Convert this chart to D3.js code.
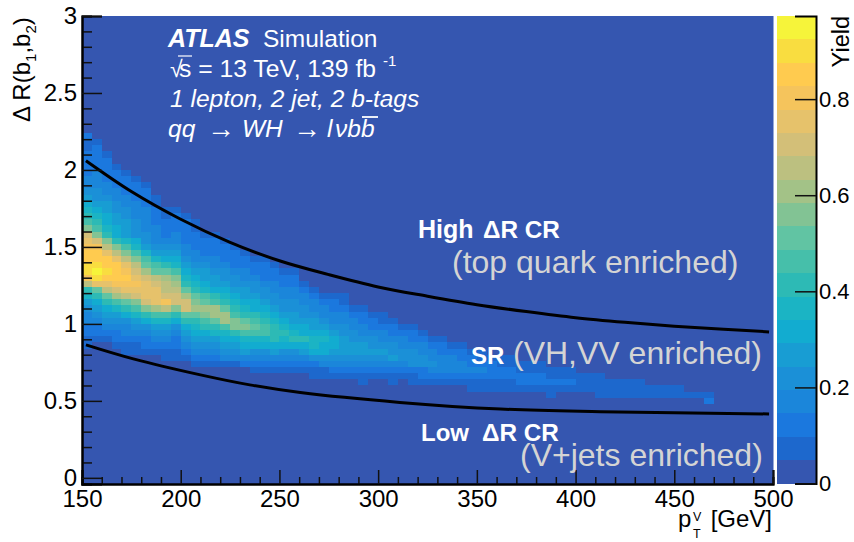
<!DOCTYPE html>
<html>
<head>
<meta charset="utf-8">
<script src="https://d3js.org/d3.v7.min.js"></script>
<style>
  html, body { margin: 0; padding: 0; background: #fff; }
  svg { display: block; }
  text { font-family: "Liberation Sans", Arial, sans-serif; }
  .tick text { font-family: "Liberation Sans", Arial, sans-serif; }
</style>
</head>
<body>
<div id="chart"></div>
<script>
// palette of the z axis, one colour per band, lowest yield first
var bandColors = ["#3556b0", "#1d68cd", "#1b78de", "#1b86da", "#1b90d7", "#189dd3", "#12acd0",
  "#1bb4c4", "#2dbab5", "#46bfaa", "#61c4a3", "#82c394", "#a3c287", "#bcc080", "#d3bf78",
  "#e6c26b", "#f5c45c", "#ffcb4f", "#f9dd40", "#f6f43a"];
var zMax = 0.973;

// heat map: x bins are 5 GeV wide, y bins 0.04 wide
var binWidthX = 5;
var binWidthY = 0.04;

// lowest filled y bin of each pT column
var firstRow = [21, 22, 22, 21, 20, 20, 20, 20, 19, 19, 19, 18, 18, 18, 18, 18, 18,
  17, 17, 17, 17, 17, 17, 16, 16, 16, 16, 16, 15, 16, 16, 15, 16, 15, 15, 15, 15, 15, 15,
  14, 14, 14, 14, 14, 14, 14, 14, 13, 14, 14, 14, 14, 13, 13, 13, 13, 13, 13, 13, 13, 13, 13, 13, 12];

// colour band, going upwards from firstRow
var columnBands = [
  [1,1,2,2,3,3,4,5,7,8,13,16,18,18,17,17,16,15,14,11,9,8,7,6,5,4,3,3,2,2,2,2,1,1,2],
  [1,2,2,3,4,5,6,8,10,15,18,19,18,17,17,16,14,11,9,8,7,6,5,4,4,3,3,3,2,2,2,2,1],
  [1,2,3,4,5,6,8,10,13,15,17,18,17,17,15,13,11,8,7,6,6,5,5,4,3,3,2,2,2,2,1],
  [1,2,2,3,4,5,7,9,12,14,16,17,17,17,15,13,11,8,6,6,5,5,4,4,3,3,2,2,2,1],
  [1,1,2,3,3,4,6,8,10,13,15,16,17,16,15,13,11,9,7,5,5,5,4,4,3,3,2,2,2,1],
  [1,1,2,3,4,5,7,9,11,14,15,16,15,14,13,11,9,7,6,4,4,4,3,3,3,2,2,2,1],
  [1,2,2,3,4,6,8,11,14,15,15,15,14,12,10,9,7,5,4,4,3,3,3,3,2,2,2,1],
  [1,2,3,4,5,7,9,12,15,15,15,14,13,10,9,7,5,4,3,3,3,2,2,2,1,1],
  [1,1,2,3,4,5,7,9,13,16,14,13,13,12,10,8,6,5,4,3,2,2,2,1,1],
  [1,1,2,2,3,4,6,8,11,14,14,13,12,11,9,7,6,5,4,3,3,2,2,2,1],
  [1,2,3,4,5,6,8,10,14,14,12,10,8,7,6,5,4,3,3,2,2,2,2,1],
  [1,2,3,4,5,6,7,8,10,12,11,10,8,7,6,5,4,3,3,2,2,2,1,1],
  [1,2,3,4,5,6,8,9,11,12,10,9,7,6,5,5,4,3,2,2,2,1],
  [1,2,3,4,5,7,8,10,12,12,9,8,6,5,5,4,3,3,2,2,2,1],
  [1,3,4,5,6,7,9,12,12,10,8,7,6,5,4,4,3,2,2,2,1],
  [1,3,4,5,6,8,11,11,9,8,7,6,5,4,4,3,2,2,2,1],
  [2,3,5,6,7,9,11,10,8,7,6,5,5,4,3,3,2,2,1],
  [1,2,3,4,6,7,9,10,9,8,6,6,5,4,4,3,2,2,1],
  [1,2,3,4,6,7,9,9,8,7,6,5,4,4,3,2,2,2,1],
  [1,2,3,5,6,8,8,8,7,6,5,4,4,3,3,2,2,1],
  [1,2,3,4,6,7,8,7,6,5,4,4,3,3,2,2,1],
  [1,2,3,4,6,8,7,6,5,5,4,4,3,3,2,2,1],
  [1,2,3,5,6,8,6,6,5,4,4,3,3,2,1],
  [1,1,2,4,6,7,7,6,5,5,4,3,3,2,1],
  [1,1,3,4,6,6,7,6,5,4,3,3,2,1],
  [1,2,3,4,5,6,6,5,4,3,3,2,2,1],
  [1,2,3,4,5,5,5,4,4,3,3,2,1,1],
  [1,2,3,4,5,5,4,4,3,3,2,1],
  [1,1,2,3,4,5,5,4,3,3,2,2,1],
  [1,2,3,4,5,4,4,3,2,2,1],
  [1,2,3,4,5,4,3,3,2,1,1],
  [1,1,2,3,5,4,4,3,2,2,1],
  [1,2,3,4,4,3,3,2,1],
  [1,1,2,4,4,4,3,2,2,1],
  [1,2,2,4,4,3,3,2,1],
  [1,2,3,4,3,3,2,1],
  [1,2,3,3,3,2,2,1],
  [1,2,3,3,3,2,1],
  [1,2,3,3,2,2,1],
  [1,1,2,3,2,2,1],
  [1,1,2,3,2,1,1],
  [1,1,2,2,2,1],
  [1,1,2,2,1,1],
  [1,1,2,2,1,1],
  [1,2,2,1,1],
  [1,2,2,1,1],
  [1,2,2,1,1],
  [1,1,2,1,1],
  [1,2,1,1],
  [1,2,1,1],
  [1,1,1],
  [1,1,1],
  [1,1,1,1],
  [1,1,1],
  [1,1,1],
  [1,1,1],
  [1,1,1],
  [1,1],
  [1,1],
  [1,1],
  [1,1],
  [1],
  [1],
  [2,1]
];

// the two black selection curves
var upperCurvePt = [152, 175, 200, 225, 250, 275, 300, 325, 350, 375, 400, 425, 450, 475, 498];
var upperCurveDR = [2.06, 1.86, 1.68, 1.53, 1.41, 1.32, 1.24, 1.18, 1.125, 1.08, 1.04, 1.01, 0.985, 0.965, 0.948];
var lowerCurvePt = [152, 176, 210, 235, 260.6, 311, 362, 412.5, 498];
var lowerCurveDR = [0.864, 0.773, 0.669, 0.604, 0.554, 0.490, 0.447, 0.430, 0.415];

// ticks
var xMajor = [150, 200, 250, 300, 350, 400, 450, 500];
var yMajor = [0, 0.5, 1, 1.5, 2, 2.5, 3];
var zMajor = [0, 0.2, 0.4, 0.6, 0.8];

var svgWidth = 854;
var svgHeight = 542;
var plot = { left: 82, right: 773, top: 16, bottom: 484 };
var bar = { left: 777, right: 816 };

var svg = d3.select("#chart").append("svg")
  .attr("width", svgWidth)
  .attr("height", svgHeight);

var xScale = d3.scaleLinear().domain([150, 500]).range([plot.left, plot.right]);
var yScale = d3.scaleLinear().domain([-0.04, 3]).range([plot.bottom, plot.top]);
var zScale = d3.scaleLinear().domain([0, zMax]).range([plot.bottom - 0.5, plot.top]);
var colorScale = d3.scaleQuantize().domain([0, zMax]).range(bandColors);
var bandStep = zMax / bandColors.length;

// flatten columns to cells
var cells = [];
columnBands.forEach(function(bands, i) {
  bands.forEach(function(b, k) {
    cells.push({
      pt: 150 + i * binWidthX,
      dr: (firstRow[i] + k) * binWidthY,
      yield: (b + 0.5) * bandStep
    });
  });
});

// plot background, z = 0
svg.append("rect")
  .attr("x", plot.left)
  .attr("y", plot.top)
  .attr("width", plot.right - plot.left + 0.5)
  .attr("height", plot.bottom - plot.top)
  .attr("fill", bandColors[0]);

svg.append("g").selectAll("rect")
  .data(cells)
  .enter()
  .append("rect")
  .attr("x", d => xScale(d.pt))
  .attr("y", d => yScale(d.dr + binWidthY))
  .attr("width", d => xScale(d.pt + binWidthX) - xScale(d.pt))
  .attr("height", d => yScale(d.dr) - yScale(d.dr + binWidthY))
  .attr("fill", d => colorScale(d.yield))
  .attr("shape-rendering", "crispEdges");

// selection curves
var curveLine = d3.line()
  .x(d => xScale(d[0]))
  .y(d => yScale(d[1]))
  .curve(d3.curveCatmullRom);

[[upperCurvePt, upperCurveDR], [lowerCurvePt, lowerCurveDR]].forEach(function(c) {
  svg.append("path")
    .attr("d", curveLine(d3.zip(c[0], c[1])))
    .attr("fill", "none")
    .attr("stroke", "#000")
    .attr("stroke-width", 3);
});

// axes: major ticks with labels, minor ticks without
function styleAxis(g) {
  g.selectAll("path").attr("stroke", "#000").attr("stroke-width", 2);
  g.selectAll("line").attr("stroke", "#111").attr("stroke-width", 1.5);
  g.selectAll("text").attr("font-size", 24).attr("fill", "#000");
}

var xMinorValues = d3.range(150, 501, 10).filter(v => xMajor.indexOf(v) < 0);
svg.append("g")
  .attr("transform", `translate(0, ${plot.bottom})`)
  .call(d3.axisBottom(xScale).tickValues(xMinorValues).tickSize(-7).tickFormat(""))
  .call(styleAxis);
svg.append("g")
  .attr("transform", `translate(0, ${plot.bottom})`)
  .call(d3.axisBottom(xScale).tickValues(xMajor).tickSize(-14).tickPadding(6).tickFormat(d3.format("d")))
  .call(styleAxis);

var yMinorValues = d3.range(0, 30).map(v => v / 10).filter(v => yMajor.indexOf(v) < 0);
svg.append("g")
  .attr("transform", `translate(${plot.left}, 0)`)
  .call(d3.axisLeft(yScale).tickValues(yMinorValues).tickSize(-10).tickFormat(""))
  .call(styleAxis);
svg.append("g")
  .attr("transform", `translate(${plot.left}, 0)`)
  .call(d3.axisLeft(yScale).tickValues(yMajor).tickSize(-20).tickPadding(5).tickFormat(d => d))
  .call(styleAxis);

// colour bar
svg.append("g").selectAll("rect")
  .data(bandColors)
  .enter()
  .append("rect")
  .attr("x", bar.left)
  .attr("y", (d, i) => zScale((i + 1) * bandStep))
  .attr("width", bar.right - bar.left)
  .attr("height", (d, i) => zScale(i * bandStep) - zScale((i + 1) * bandStep))
  .attr("fill", d => d)
  .attr("shape-rendering", "crispEdges");

svg.append("g")
  .attr("transform", `translate(${bar.right}, 0)`)
  .call(d3.axisRight(zScale).tickValues(zMajor).tickSize(-21).tickPadding(3).tickFormat(d => d))
  .call(styleAxis)
  .call(g => g.selectAll("text").attr("font-size", 22));

// text helper
function label(x, y, str, opts) {
  opts = opts || {};
  return svg.append("text")
    .attr("x", x)
    .attr("y", y)
    .attr("font-size", opts.size || 23)
    .attr("font-style", opts.italic ? "italic" : null)
    .attr("font-weight", opts.bold ? "bold" : null)
    .attr("text-anchor", opts.anchor || "start")
    .attr("fill", opts.fill || "#fff")
    .text(str);
}

// ATLAS block
label(168, 47, "ATLAS", { bold: true, italic: true, size: 25 });
label(263, 47, "Simulation", { size: 24.5 });

var sqrtLine = label(170, 77, "", { size: 24.7 });
sqrtLine.append("tspan").attr("font-size", 23).text("\u221A");
sqrtLine.append("tspan").attr("dx", -3.6).text("s = 13 TeV, 139 fb");
label(383, 66, "-1", { size: 15 });
svg.append("line").attr("x1", 178).attr("x2", 192).attr("y1", 56).attr("y2", 56)
  .attr("stroke", "#fff").attr("stroke-width", 1.2);

label(170, 107, "1 lepton, 2 jet, 2 b-tags", { italic: true, size: 24.5 });

label(168, 137, "qq", { italic: true, size: 24.5 });
label(207, 138, "\u2192", { size: 28 });
label(242, 137, "WH", { italic: true, size: 24.5 });
label(293, 138, "\u2192", { size: 28 });
label(327, 137, "l", { italic: true, size: 24.5 });
label(335, 137, "\u03BDbb", { italic: true, size: 24.5 });
svg.append("line").attr("x1", 362).attr("x2", 378).attr("y1", 117).attr("y2", 117)
  .attr("stroke", "#fff").attr("stroke-width", 1.8);

// region labels
label(418, 238, "High", { bold: true, size: 25 });
label(483, 238, "\u0394R CR", { bold: true, size: 24.3 });
label(452, 273, "(top quark enriched)", { size: 32, fill: "#d4d4d4" });
label(471, 364, "SR", { bold: true, size: 24 });
label(513, 364, "(VH,VV enriched)", { size: 32, fill: "#d4d4d4" });
label(421, 441, "Low", { bold: true, size: 24 });
label(482, 441, "\u0394R CR", { bold: true, size: 24.3 });
label(520, 466, "(V+jets enriched)", { size: 32, fill: "#d4d4d4" });

// y title, rotated, with subscripts
var yTitle = svg.append("text")
  .attr("transform", "translate(30, 122) rotate(-90)")
  .attr("font-size", 24)
  .attr("fill", "#000");
yTitle.append("tspan").text("\u0394 R(b");
yTitle.append("tspan").attr("font-size", 15).attr("dy", 6).text("1");
yTitle.append("tspan").attr("dy", -6).text(",b");
yTitle.append("tspan").attr("font-size", 15).attr("dy", 6).text("2");
yTitle.append("tspan").attr("dy", -6).text(")");

// x title
label(678, 527, "p", { size: 24, fill: "#000" });
label(693, 521, "V", { size: 12.5, fill: "#000" });
label(693, 538, "T", { size: 12.5, fill: "#000" });
label(772, 527, "[GeV]", { size: 24, fill: "#000", anchor: "end" });

// colour bar title
svg.append("text")
  .attr("transform", "translate(849, 16) rotate(-90)")
  .attr("text-anchor", "end")
  .attr("font-size", 23.5)
  .attr("fill", "#000")
  .text("Yield");
</script>
</body>
</html>
